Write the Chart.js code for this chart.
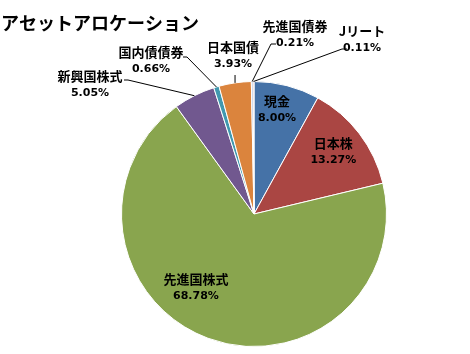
<!DOCTYPE html>
<html lang="ja">
<head>
  <meta charset="UTF-8">
  <title>アセットアロケーション</title>
  <script src="https://cdn.jsdelivr.net/npm/chart.js"></script>
  <style>
    html, body { margin: 0; padding: 0; background: #fff; }
    #wrap { width: 470px; height: 354px; position: relative; }
  </style>
</head>
<body>
  <div id="wrap"><canvas id="pie" width="470" height="354"></canvas></div>

  <script>
    const title = 'アセットアロケーション';
    const labels = ['現金', '日本株', '先進国株式', '新興国株式', '国内債債券', '日本国債', '先進国債券', 'Jリート'];
    const values = [8.00, 13.27, 68.78, 5.05, 0.66, 3.93, 0.21, 0.11];
    const colors = ['#4572A7', '#AA4643', '#89A54E', '#71588F', '#4198AF', '#DB843D', '#93A9CF', '#D19392'];

    // label layout: inside = placed on the slice, otherwise text centre + leader start
    const labelPos = [
      { inside: true, r: 0.88, dx: -6, dy: 0 },
      { inside: true, r: 0.80, dx: -5, dy: -7 },
      { inside: true, r: 0.50, dx: -35, dy: 3 },
      { x: 90, y: 76, lx: 128, ly: 80 },
      { x: 151, y: 52, lx: 187, ly: 57 },
      { x: 233, y: 47, lx: 235, ly: 75 },
      { x: 295, y: 26, lx: 276, ly: 44 },
      { x: 362, y: 31, lx: 347, ly: 49 }
    ];

    const labelPlugin = {
      id: 'labelPlugin',
      afterDatasetsDraw(chart) {
        const ctx = chart.ctx;
        const meta = chart.getDatasetMeta(0);
        ctx.save();
        ctx.fillStyle = '#000';
        ctx.font = 'bold 18px "Noto Sans CJK JP"';
        ctx.textAlign = 'left';
        ctx.textBaseline = 'middle';
        ctx.fillText(title, 1, 23);

        ctx.textAlign = 'center';
        meta.data.forEach((arc, i) => {
          const p = labelPos[i];
          const mid = (arc.startAngle + arc.endAngle) / 2;
          let tx, ty;
          if (p.inside) {
            tx = arc.x + Math.cos(mid) * arc.outerRadius * p.r + p.dx;
            ty = arc.y + Math.sin(mid) * arc.outerRadius * p.r + p.dy;
          } else {
            tx = p.x;
            ty = p.y;
            const ex = arc.x + Math.cos(mid) * arc.outerRadius;
            const ey = arc.y + Math.sin(mid) * arc.outerRadius;
            ctx.strokeStyle = '#000';
            ctx.lineWidth = 1;
            ctx.beginPath();
            if (i === 5) {
              ctx.moveTo(ex, p.ly);
            } else if (i >= 6) {
              ctx.moveTo(p.lx, p.ly);
              ctx.lineTo(p.lx - 5, p.ly);
            } else {
              ctx.moveTo(p.lx - 4, p.ly);
              ctx.lineTo(p.lx, p.ly);
            }
            ctx.lineTo(ex, ey);
            ctx.stroke();
          }
          ctx.fillStyle = '#000';
          ctx.font = 'bold 13px "Noto Sans CJK JP"';
          ctx.fillText(labels[i], tx, ty);
          ctx.font = 'bold 11px "DejaVu Sans"';
          ctx.fillText(values[i].toFixed(2) + '%', tx, ty + 17.5);
        });
        ctx.restore();
      }
    };

    new Chart(document.getElementById('pie'), {
      type: 'pie',
      data: {
        labels: labels,
        datasets: [{
          data: values,
          backgroundColor: colors,
          borderColor: '#fff',
          borderWidth: 1
        }]
      },
      options: {
        responsive: false,
        animation: false,
        layout: { padding: { top: 81, bottom: 7, left: 121, right: 83 } },
        plugins: {
          legend: { display: false },
          tooltip: { enabled: false }
        }
      },
      plugins: [labelPlugin]
    });
  </script>
</body>
</html>
